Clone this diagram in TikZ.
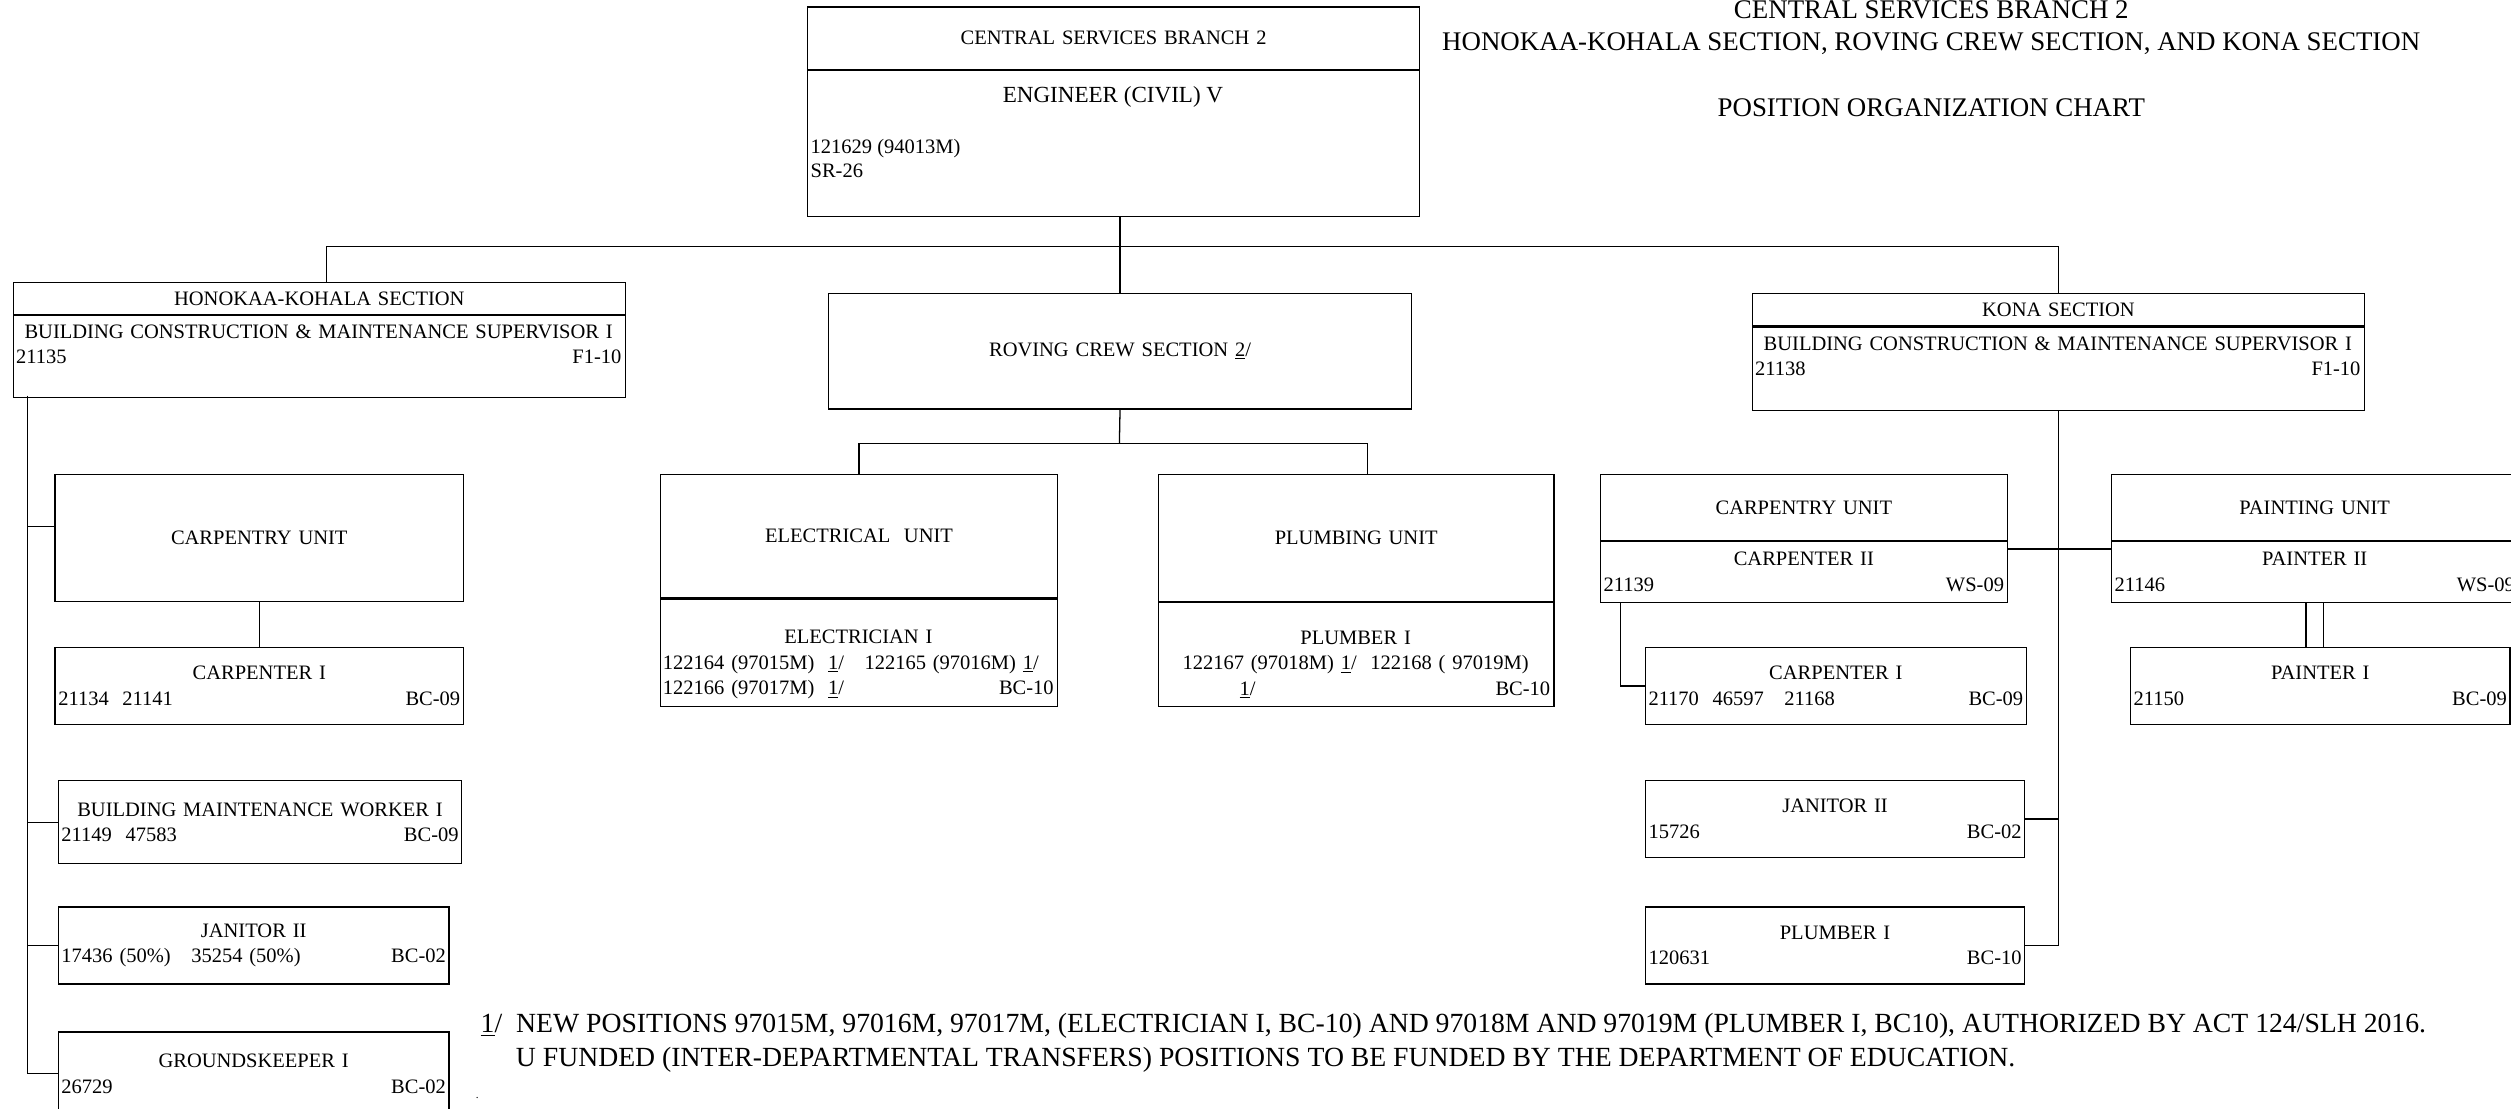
\documentclass[tikz,border=0pt]{standalone}
\usepackage{fontspec}
\setmainfont{Liberation Serif}
\usetikzlibrary{positioning}
\newcommand\orgfont{\fontsize{12.8}{16}\selectfont}
\newcommand\orgbig{\fontsize{14.4}{17}\selectfont}
\newcommand\orgtitle{\fontsize{16.8}{21}\selectfont}
\newcommand\orgnote{\fontsize{17.3}{21}\selectfont}
\newcommand\posline[2]{\leavevmode\hbox to\hsize{#1\hfill#2}}
\newcommand\fnmark[1]{\underline{#1}/}
\tikzset{
  org-box/.style={
    draw=black, line width=0.8pt, inner xsep=2pt, inner ysep=1pt,
    align=center, anchor=north west, font=\orgfont
  },
  org-pos/.style 2 args={org-box, text width=#1, minimum height=#2},
  org-frame/.style 2 args={org-box, minimum width=#1, minimum height=#2},
  org-text/.style={inner sep=0pt, font=\orgfont},
  org-title/.style={inner sep=0pt, font=\orgtitle, anchor=base},
  org-link/.style={draw=black, line width=0.8pt}
}
\begin{document}
\begin{tikzpicture}[x=1pt,y=-1pt]
\useasboundingbox (0,0) rectangle (1568,692);
\fill[white] (0,0) rectangle (1568,692);

% Heading
\node[org-title] (title-a) at (1206,11.6) {CENTRAL SERVICES BRANCH 2};
\node[org-title] (title-b) at (1206,31.6)
  {HONOKAA-KOHALA SECTION, ROVING CREW SECTION, AND KONA SECTION};
\node[org-title] (title-c) at (1206,72.6) {POSITION ORGANIZATION CHART};

% Branch head
\node[org-pos={378pt}{39pt}] (csb) at (504,4) {CENTRAL SERVICES BRANCH 2};
\node[org-frame={382pt}{91pt}, below=0pt of csb.south west, anchor=north west]
  (eng) {};
\node[org-text, font=\orgbig, anchor=base] (eng-title) at (695,63.8)
  {ENGINEER (CIVIL) V};
\node[org-text, align=left, anchor=north west] (eng-num) at (506,87)
  {121629 (94013M)\\[-1pt]SR-26};

% Sections
\node[org-pos={378pt}{20pt}] (hk-t) at (8,176) {HONOKAA-KOHALA SECTION};
\node[org-frame={382pt}{51pt}, below=0pt of hk-t.south west, anchor=north west]
  (hk) {};
\node[org-text, text width=378pt, align=center] (hk-txt) at (199,215)
  {BUILDING CONSTRUCTION \& MAINTENANCE SUPERVISOR I\\
  \posline{21135}{F1-10}};

\node[org-pos={360pt}{72pt}] (rov) at (517,183) {ROVING CREW SECTION \fnmark{2}};

\node[org-pos={378pt}{20pt}] (kona-t) at (1094,183) {KONA SECTION};
\node[org-frame={382pt}{52pt}, below=0pt of kona-t.south west, anchor=north west]
  (kona) {};
\node[org-text, text width=378pt, align=center] (kona-txt) at (1285,222.5)
  {BUILDING CONSTRUCTION \& MAINTENANCE SUPERVISOR I\\
  \posline{21138}{F1-10}};

% Roving crew units
\node[org-pos={244pt}{77pt}] (elec-t) at (412,296) {ELECTRICAL~~UNIT};
\node[org-frame={248pt}{67pt}, below=0pt of elec-t.south west, anchor=north west]
  (elec) {};
\node[org-text, text width=244pt, align=center] (elec-txt) at (536,415)
  {ELECTRICIAN I\\
  \posline{122164 (97015M)~~\fnmark{1}~~~122165 (97016M)~\fnmark{1}}{}\\
  \posline{122166 (97017M)~~\fnmark{1}}{BC-10}};

\node[org-pos={243pt}{79pt}] (plumb-t) at (723,296) {PLUMBING UNIT};
\node[org-frame={247pt}{65pt}, below=0pt of plumb-t.south west, anchor=north west]
  (plumb) {};
\node[org-text, text width=243pt, align=center] (plumb-txt) at (846.5,415)
  {PLUMBER I\\
  122167 (97018M) \fnmark{1}~~122168 ( 97019M)\\
  \posline{\hspace{49pt}\fnmark{1}}{BC-10}};

% Honokaa-Kohala units
\node[org-pos={251pt}{79pt}] (hc-unit) at (34,296) {CARPENTRY UNIT};
\node[org-pos={251pt}{48pt}] (hc-carp) at (34,404)
  {CARPENTER I\\\posline{21134~~21141}{BC-09}};
\node[org-pos={248pt}{52pt}] (hc-bmw) at (36,487)
  {BUILDING MAINTENANCE WORKER I\\\posline{21149~~47583}{BC-09}};
\node[org-pos={240pt}{48pt}] (hc-jan) at (36,566)
  {JANITOR II\\\posline{17436 (50\%)~~~35254 (50\%)}{BC-02}};
\node[org-pos={240pt}{52pt}] (hc-gk) at (36,644)
  {GROUNDSKEEPER I\\\posline{26729}{BC-02}};

% Kona units
\node[org-pos={250pt}{41pt}] (kc-unit-t) at (999,296) {CARPENTRY UNIT};
\node[org-pos={250pt}{38pt}, below=0pt of kc-unit-t.south west, anchor=north west]
  (kc-unit) {CARPENTER II\\\posline{21139}{WS-09}};
\node[org-pos={250pt}{41pt}] (kp-unit-t) at (1318,296) {PAINTING UNIT};
\node[org-pos={250pt}{38pt}, below=0pt of kp-unit-t.south west, anchor=north west]
  (kp-unit) {PAINTER II\\\posline{21146}{WS-09}};
\node[org-pos={234pt}{48pt}] (kc-carp) at (1027,404)
  {CARPENTER I\\\posline{21170~~46597~~~21168}{BC-09}};
\node[org-pos={233pt}{48pt}] (kp-paint) at (1330,404)
  {PAINTER I\\\posline{21150}{BC-09}};
\node[org-pos={233pt}{48pt}] (kn-jan) at (1027,487)
  {JANITOR II\\\posline{15726}{BC-02}};
\node[org-pos={233pt}{48pt}] (kn-plumb) at (1027,566)
  {PLUMBER I\\\posline{120631}{BC-10}};

% Footnote
\node[org-text, font=\orgnote, anchor=base west] (note-a) at (300,645)
  {\fnmark{1}~~NEW POSITIONS 97015M, 97016M, 97017M, (ELECTRICIAN I, BC-10)
  AND 97018M AND 97019M (PLUMBER I, BC10), AUTHORIZED BY ACT 124/SLH 2016.};
\node[org-text, font=\orgnote, anchor=base west] (note-b) at (322,666)
  {U FUNDED (INTER-DEPARTMENTAL TRANSFERS) POSITIONS TO BE FUNDED BY THE
  DEPARTMENT OF EDUCATION.};
\node[org-text, font=\scriptsize, anchor=base west] (note-dot) at (297,686) {.};

% Lines
\coordinate (bus) at (699,154);
\coordinate (hk-in) at (204,176);
\coordinate (rv-bus) at (699,277);
\coordinate (plumb-in) at (854,296);
\coordinate (hk-spine) at (17,247);

\draw[org-link] (eng.south -| rov.north) -- (rov.north);
\draw[org-link] (hk-in) |- (bus) -| (kona-t.north);

\draw[org-link] (rov.south) -- (rv-bus);
\draw[org-link] (elec-t.north) |- (rv-bus) -| (plumb-in);

\draw[org-link] (hk-spine) |- (hc-gk.west);
\draw[org-link] ([yshift=7pt]hc-unit.west) -- ([yshift=7pt]hc-unit.west -| hk-spine);
\draw[org-link] (hc-bmw.west) -- (hc-bmw.west -| hk-spine);
\draw[org-link] (hc-jan.west) -- (hc-jan.west -| hk-spine);
\draw[org-link] (hc-unit.south) -- (hc-carp.north);

\draw[org-link] (kona.south) |- (kn-plumb.east);
\draw[org-link] (kn-jan.east) -- (kn-jan.east -| kona.south);
\draw[org-link] ([yshift=-5pt]kc-unit-t.south east)
  -- ([yshift=-5pt]kp-unit-t.south west);
\draw[org-link] ([xshift=13pt]kc-unit.south west) |- (kc-carp.west);
\draw[org-link, double, double distance=10pt]
  (kp-unit.south) -- (kp-unit.south |- kp-paint.north);
\end{tikzpicture}
\end{document}
